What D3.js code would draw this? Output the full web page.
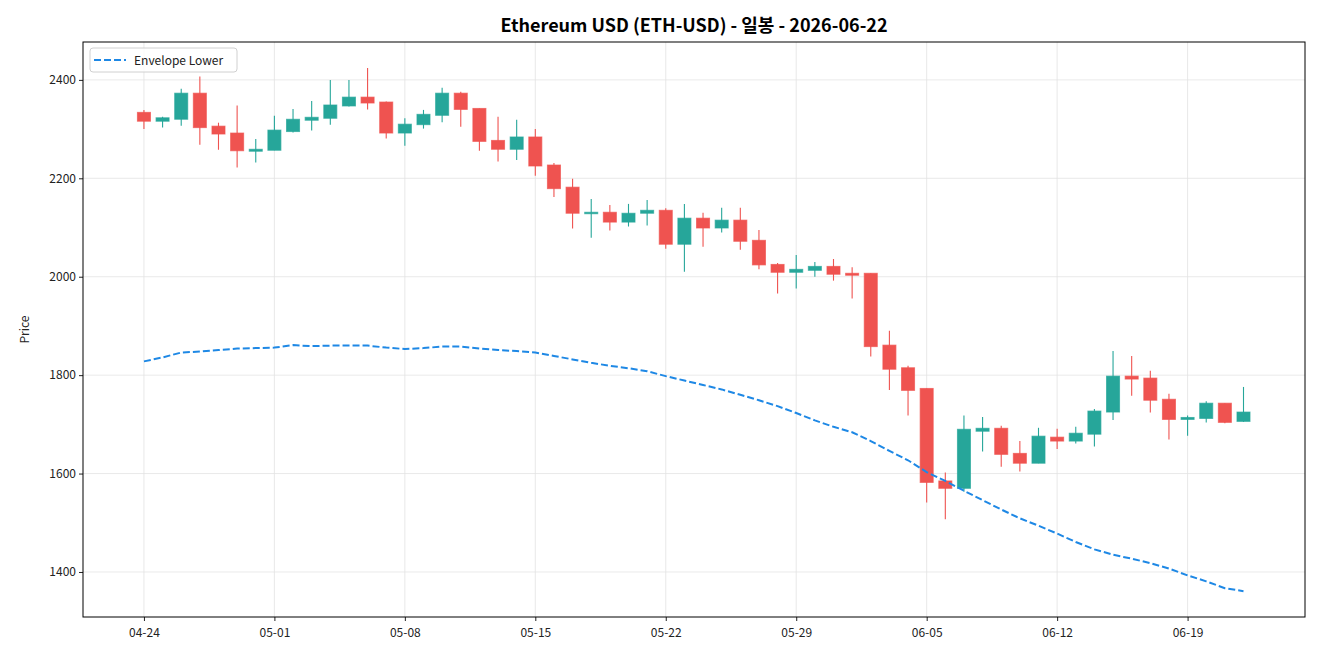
<!DOCTYPE html>
<html>
<head>
<meta charset="utf-8">
<script src="https://cdn.jsdelivr.net/npm/d3@7"></script>
<style>
  body { margin: 0; background: #fff; }
  text { font-family: "Noto Sans CJK KR", "Noto Sans", sans-serif; }
</style>
</head>
<body>
<script>
var W = 1320, H = 660;
var margin = {left: 83, right: 15, top: 42, bottom: 43};

// daily candles, 2026-04-24 .. 2026-06-22
var startDay = new Date(2026, 3, 24);
var dates = d3.timeDay.range(startDay, d3.timeDay.offset(startDay, 60));

var open  = [2334,2316,2320,2373,2306,2292,2255,2257,2295,2318,2322,2347,2365,2355,2292,2309,2328,2373,2342,2277,
             2259,2284,2227,2182,2128,2131,2111,2129,2135,2066,2119,2099,2115,2074,2025,2009,2013,2021,2007,2007,
             1861,1815,1773,1585,1570,1686,1692,1641,1621,1674,1666,1680,1725,1798,1794,1751,1710,1712,1743,1706];
var high  = [2339,2325,2382,2407,2313,2348,2280,2327,2341,2357,2400,2400,2424,2356,2322,2339,2384,2376,2342,2325,
             2319,2300,2231,2199,2158,2146,2148,2156,2139,2148,2130,2140,2140,2095,2028,2044,2030,2036,2019,2007,
             1890,1819,1773,1602,1718,1715,1697,1666,1693,1691,1695,1731,1849,1839,1809,1762,1718,1747,1743,1776];
var low   = [2300,2303,2307,2268,2258,2222,2232,2257,2293,2297,2309,2346,2340,2281,2266,2301,2314,2305,2256,2234,
             2237,2205,2162,2098,2079,2094,2102,2104,2057,2010,2061,2090,2055,2015,1966,1976,2000,1992,1956,1838,
             1770,1718,1541,1507,1563,1645,1614,1604,1621,1650,1661,1655,1709,1758,1724,1669,1677,1704,1702,1705];
var close = [2316,2323,2373,2303,2290,2256,2259,2298,2320,2324,2349,2365,2353,2292,2310,2330,2373,2340,2275,2259,
             2284,2225,2179,2129,2131,2111,2129,2135,2066,2119,2099,2115,2072,2024,2009,2015,2021,2005,2003,1858,
             1812,1769,1582,1570,1690,1692,1639,1621,1676,1666,1682,1727,1798,1792,1749,1710,1714,1743,1704,1725];
var envLower = [1828,1836,1846,1848,1851,1854,1855,1856,1861,1859,1860,1860,1860,1856,1853,1855,1858,1858,1854,1851,
                1849,1846,1839,1832,1825,1819,1814,1808,1798,1789,1780,1771,1760,1749,1737,1723,1708,1695,1684,1666,
                1646,1627,1603,1585,1565,1546,1527,1509,1494,1478,1461,1446,1435,1427,1418,1407,1393,1381,1367,1361];

var yTicks = [1400, 1600, 1800, 2000, 2200, 2400];
var xTickIdx = [0, 7, 14, 21, 28, 35, 42, 49, 56];

var candles = dates.map(function(d, i) {
  return {i: i, date: d, o: open[i], h: high[i], l: low[i], c: close[i]};
});

var svg = d3.select("body").append("svg")
  .attr("width", W).attr("height", H);

var x = d3.scaleLinear().domain([-3.27, 62.3]).range([margin.left, W - margin.right]);
var y = d3.scaleLinear().domain([1308.5, 2477]).range([H - margin.bottom, margin.top]);

var up = "#26a69a", down = "#ef5350";
var fmt = d3.timeFormat("%m-%d");

// grid
var g = svg.append("g");
g.selectAll(".gy").data(yTicks).enter().append("line")
  .attr("x1", margin.left).attr("x2", W - margin.right)
  .attr("y1", function(d) { return y(d); }).attr("y2", function(d) { return y(d); })
  .attr("stroke", "#e3e3e3").attr("stroke-width", 0.8);
g.selectAll(".gx").data(xTickIdx).enter().append("line")
  .attr("y1", margin.top).attr("y2", H - margin.bottom)
  .attr("x1", function(d) { return x(d); }).attr("x2", function(d) { return x(d); })
  .attr("stroke", "#e3e3e3").attr("stroke-width", 0.8);

// candles
var bw = (x(1) - x(0)) * 0.7;
var cg = svg.append("g");
cg.selectAll(".wick").data(candles).enter().append("line")
  .attr("x1", function(d) { return x(d.i); }).attr("x2", function(d) { return x(d.i); })
  .attr("y1", function(d) { return y(d.h); }).attr("y2", function(d) { return y(d.l); })
  .attr("stroke", function(d) { return d.c >= d.o ? up : down; })
  .attr("stroke-width", 1.1);
cg.selectAll(".body").data(candles).enter().append("rect")
  .attr("x", function(d) { return x(d.i) - bw / 2; })
  .attr("width", bw)
  .attr("y", function(d) { return y(Math.max(d.o, d.c)); })
  .attr("height", function(d) { return Math.max(1, Math.abs(y(d.o) - y(d.c))); })
  .attr("fill", function(d) { return d.c >= d.o ? up : down; })
  .attr("stroke", function(d) { return d.c >= d.o ? up : down; })
  .attr("stroke-opacity", 0.7)
  .attr("stroke-width", 1);

// envelope lower
var line = d3.line()
  .x(function(d, i) { return x(i); })
  .y(function(d) { return y(d); });
svg.append("path").datum(envLower)
  .attr("d", line)
  .attr("fill", "none")
  .attr("stroke", "#1e88e5")
  .attr("stroke-width", 2)
  .attr("stroke-dasharray", "7,3");

// axes
var xAxis = d3.axisBottom(x).tickValues(xTickIdx)
  .tickFormat(function(i) { return fmt(dates[i]); }).tickSizeOuter(0).tickSize(4);
var yAxis = d3.axisLeft(y).tickValues(yTicks).tickFormat(d3.format("d"))
  .tickSizeOuter(0).tickSize(4);

var xa = svg.append("g").attr("transform", "translate(0," + (H - margin.bottom) + ")").call(xAxis);
var ya = svg.append("g").attr("transform", "translate(" + margin.left + ",0)").call(yAxis);
[xa, ya].forEach(function(a) {
  a.select(".domain").remove();
  a.selectAll("text").attr("font-size", 12).attr("fill", "#222");
  a.selectAll("line").attr("stroke", "#222");
});
xa.selectAll("text").attr("dy", "1.1em");

// frame
svg.append("rect")
  .attr("x", margin.left).attr("y", margin.top)
  .attr("width", W - margin.left - margin.right)
  .attr("height", H - margin.top - margin.bottom)
  .attr("fill", "none").attr("stroke", "#000").attr("stroke-width", 1);

// labels
svg.append("text")
  .attr("x", (margin.left + W - margin.right) / 2).attr("y", 32)
  .attr("text-anchor", "middle")
  .attr("font-size", 18).attr("font-weight", "bold")
  .text("Ethereum USD (ETH-USD) - 일봉 - 2026-06-22");

svg.append("text")
  .attr("transform", "translate(29," + ((margin.top + H - margin.bottom) / 2) + ") rotate(-90)")
  .attr("text-anchor", "middle")
  .attr("font-size", 12).attr("fill", "#222")
  .text("Price");

// legend
var lg = svg.append("g").attr("transform", "translate(90,48)");
lg.append("rect").attr("width", 147).attr("height", 24).attr("rx", 3)
  .attr("fill", "#fff").attr("fill-opacity", 0.8)
  .attr("stroke", "#d0d0d0");
lg.append("line").attr("x1", 4).attr("x2", 36).attr("y1", 12).attr("y2", 12)
  .attr("stroke", "#1e88e5").attr("stroke-width", 2).attr("stroke-dasharray", "7,3");
lg.append("text").attr("x", 44).attr("y", 16.5)
  .attr("font-size", 12).attr("fill", "#222")
  .text("Envelope Lower");
</script>
</body>
</html>
